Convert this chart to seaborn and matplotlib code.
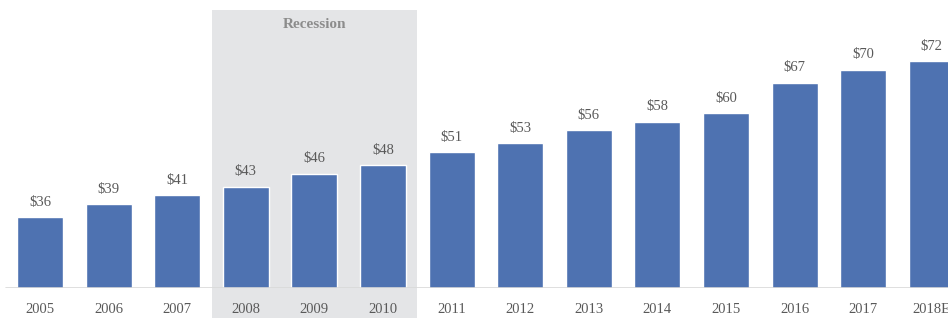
import matplotlib
matplotlib.use("Agg")
import matplotlib.pyplot as plt
import seaborn as sns
import pandas as pd

years = ["2005", "2006", "2007", "2008", "2009", "2010", "2011", "2012",
         "2013", "2014", "2015", "2016", "2017", "2018E"]
values = [36, 39, 41, 43, 46, 48, 51, 53, 56, 58, 60, 67, 70, 72]
recession_years = ["2008", "2009", "2010"]
recession_label = "Recession"

sns.set_theme(style="white")
plt.rcParams['font.family'] = ['Liberation Serif', 'DejaVu Serif']

df = pd.DataFrame({"year": years, "value": values})

W, H = 948, 321
fig = plt.figure(figsize=(W / 100, H / 100), dpi=100)
base_px = 288
ax = fig.add_axes([0, (H - base_px) / H, 1, base_px / H])

bar_color = "#4E72B1"
sns.barplot(data=df, x="year", y="value", order=years, color=bar_color,
            width=0.67, saturation=1, ax=ax, zorder=3)

spacing = 68.6
x0 = 40
ax.set_xlim(-x0 / spacing, (W - x0) / spacing)
ymin = 19.6
ax.set_ylim(ymin, ymin + base_px / 4.33)

# recession shading
i0 = years.index(recession_years[0])
i1 = years.index(recession_years[-1])
ax.axvspan(i0 - 0.5, i1 + 0.5, ymin=-30 / base_px, ymax=1 - 10 / base_px,
           color="#E4E5E7", zorder=0, clip_on=False, lw=0)
ax.text((i0 + i1) / 2, 1 - 24 / base_px, recession_label,
        transform=ax.get_xaxis_transform(), ha="center", va="center",
        fontsize=11, fontweight="bold", color="#8C8C8C")

# baseline
ax.axhline(ymin, xmin=6 / W, xmax=1, color="#D9D9D9", lw=1.2, zorder=4)

# value labels
for i, v in enumerate(values):
    ax.annotate(f"${v}", (i, v), xytext=(0, 6), textcoords="offset points",
                ha="center", va="bottom", fontsize=10.5, color="#595959")

for s in ax.spines.values():
    s.set_visible(False)
ax.set_yticks([])
ax.set_xlabel("")
ax.set_ylabel("")
ax.tick_params(axis="x", length=0, pad=11, labelsize=10.5, labelcolor="#595959")
ax.set_facecolor("none")
fig.patch.set_facecolor("white")

fig.savefig("out.png", dpi=100)
